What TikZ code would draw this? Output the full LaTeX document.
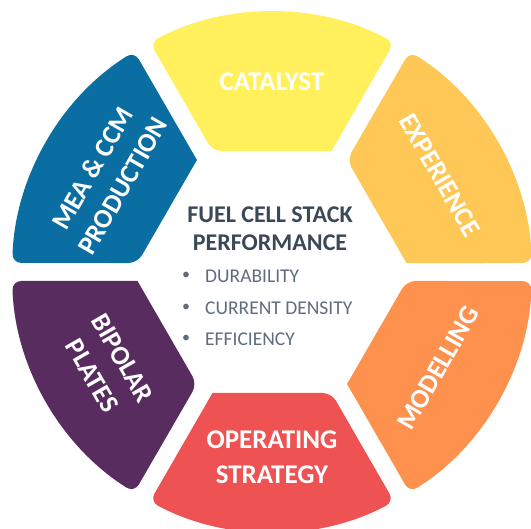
\documentclass[tikz,border=0pt]{standalone}
\usepackage{fontspec}
\setmainfont{Carlito}
\begin{document}
\begin{tikzpicture}[x=1pt,y=1pt,
  seg/.style={rounded corners=9pt},
  seglabel/.style={text=white,font=\bfseries\fontsize{27}{35}\selectfont,align=center,inner sep=0pt},
  title/.style={text=titlegray,font=\bfseries\fontsize{24}{28}\selectfont,align=center,inner sep=0pt},
  bullet/.style={text=bulletgray,font=\fontsize{19.5}{22}\selectfont,anchor=west,inner sep=0pt}]
\definecolor{catalyst}{RGB}{255,240,92}
\definecolor{experience}{RGB}{255,200,86}
\definecolor{modelling}{RGB}{255,145,78}
\definecolor{operating}{RGB}{238,82,82}
\definecolor{bipolar}{RGB}{88,44,94}
\definecolor{mea}{RGB}{10,110,162}
\definecolor{titlegray}{RGB}{58,72,88}
\definecolor{bulletgray}{RGB}{95,108,124}
\useasboundingbox (-272,-257) rectangle (259,272);
% six ring segments: one shape, rotated in steps of 60 degrees
\foreach \ang/\col in {0/catalyst,-60/experience,-120/modelling,-180/operating,-240/bipolar,-300/mea}{
  \begin{scope}[rotate=\ang]
    \fill[\col] (59.5,121) [seg] -- (122.1,229.5) arc[start angle=62,end angle=118,radius=260] -- (-59.5,121) [sharp corners] -- cycle;
  \end{scope}
}
\node[seglabel] (catalyst) at (90:190) {CATALYST};
\node[seglabel,rotate=-60] (experience) at (30:194) {EXPERIENCE};
\node[seglabel,rotate=60] (modelling) at (-30:192) {MODELLING};
\node[seglabel] (operating) at (-90:185) {OPERATING\\STRATEGY};
\node[seglabel,rotate=-60] (bipolar) at (210:190) {BIPOLAR\\PLATES};
\node[seglabel,rotate=60] (mea) at (150:190) {MEA \& CCM\\PRODUCTION};
% centre text
\node[title] (perf) at (-2,43) {FUEL CELL STACK\\PERFORMANCE};
\node[bullet] (b1) at (-67,-4) {DURABILITY};
\node[bullet] (b2) at (-67,-36) {CURRENT DENSITY};
\node[bullet] (b3) at (-67,-67) {EFFICIENCY};
\foreach \b in {b1,b2,b3}
  \node[text=bulletgray,font=\fontsize{16}{18}\selectfont,inner sep=0pt] at ([xshift=-19pt]\b.west) {•};
\end{tikzpicture}
\end{document}
